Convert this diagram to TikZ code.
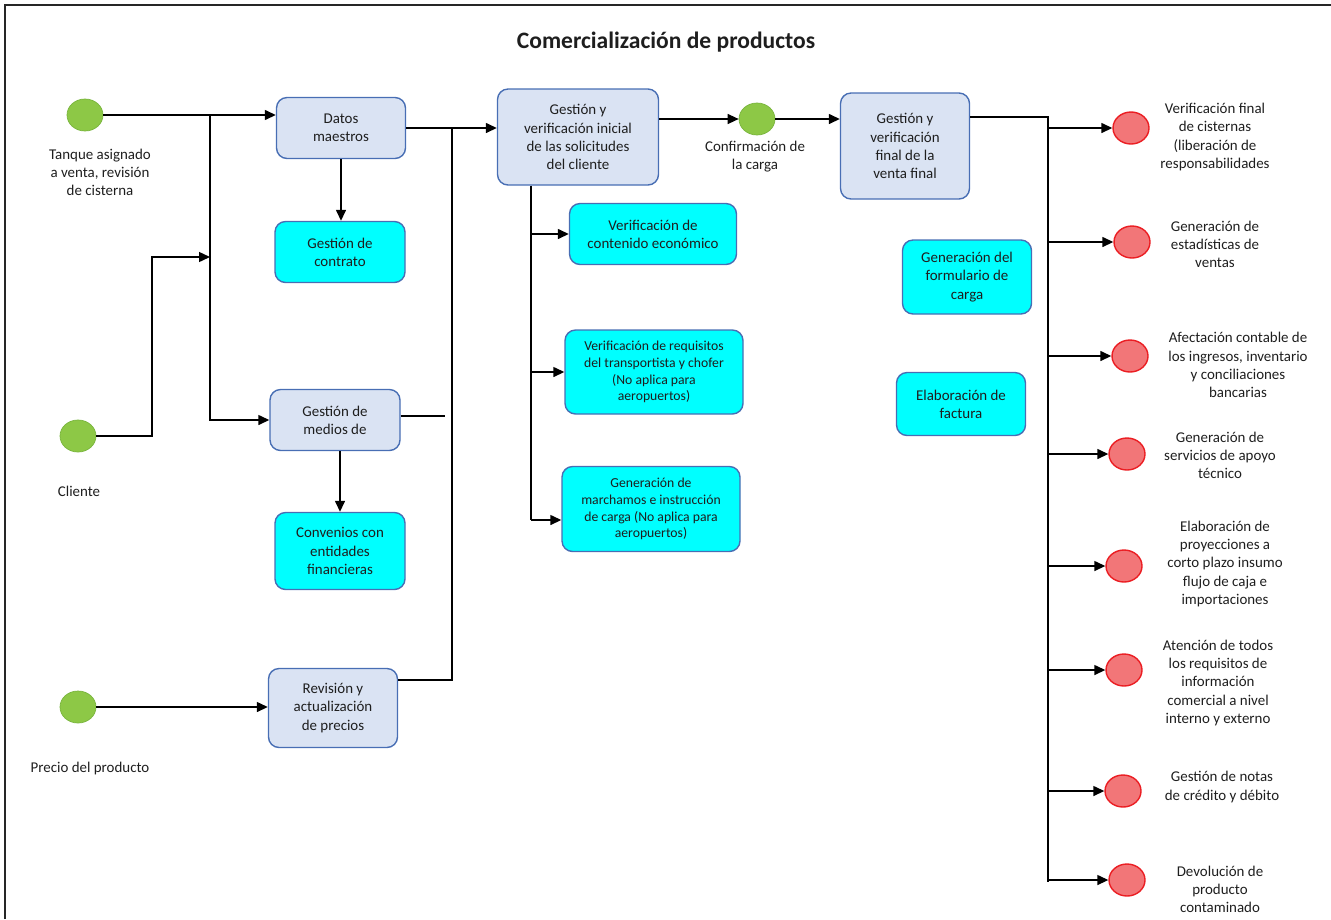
\documentclass[tikz,border=0pt]{standalone}
\usepackage{fontspec}
\setmainfont{Carlito}
\usetikzlibrary{shapes.geometric, arrows.meta}

\definecolor{cajaazul}{RGB}{218,227,243}
\definecolor{bordeazul}{RGB}{72,110,180}
\definecolor{cian}{RGB}{0,255,255}
\definecolor{verde}{RGB}{141,200,70}
\definecolor{verdeborde}{RGB}{120,180,60}
\definecolor{rojo}{RGB}{242,118,120}
\definecolor{rojoborde}{RGB}{235,30,35}
\definecolor{texto}{RGB}{30,30,30}

\begin{document}
\begin{tikzpicture}[
    every node/.style={font=\fontsize{8.5}{10.3}\selectfont, align=center, inner sep=2pt, text=texto},
    caja/.style={draw=bordeazul, line width=0.8pt, rounded corners=6pt},
    proc/.style={caja, fill=cajaazul},
    sub/.style={caja, fill=cian},
    chico/.style={font=\fontsize{7.8}{9.6}\selectfont},
    inicio/.style={ellipse, draw=verdeborde, fill=verde, minimum width=0.72cm, minimum height=0.64cm, inner sep=0pt},
    evento/.style={ellipse, draw=rojoborde, line width=0.8pt, fill=rojo, minimum width=0.72cm, minimum height=0.64cm, inner sep=0pt},
    flecha/.style={-{Triangle[length=2.2mm, width=2mm]}, line width=0.8pt},
    linea/.style={line width=0.8pt}
]
    \useasboundingbox (0,0) rectangle (26.62,-18.38);
    % Marco
    \draw[line width=1.2pt, black!85] (0.10,-18.38) -- (0.10,-0.10) -- (26.62,-0.10);

    \node[font=\fontsize{13.4}{16}\selectfont\bfseries] (titulo) at (13.32,-0.84) {Comercialización de productos};

    % Entradas
    \node[inicio] (tanque)  at (1.70,-2.30)  {};
    \node[inicio] (cliente) at (1.56,-8.72)  {};
    \node[inicio] (precio)  at (1.56,-14.14) {};
    \node[inicio] (confir)  at (15.14,-2.38) {};
    \node (lbtanque)  at (2.00,-3.44)  {Tanque asignado\\a venta, revisión\\de cisterna};
    \node (lbcliente) at (1.58,-9.82)  {Cliente};
    \node (lbprecio)  at (1.80,-15.38) {Precio del producto};
    \node (lbconfir)  at (15.10,-3.14) {Confirmación de\\la carga};

    % Procesos
    \node[proc, minimum width=2.58cm, minimum height=1.22cm] (datos)    at (6.82,-2.56)  {Datos\\maestros};
    \node[proc, minimum width=2.60cm, minimum height=1.22cm] (medios)   at (6.70,-8.40)  {Gestión de\\medios de};
    \node[proc, minimum width=2.58cm, minimum height=1.58cm] (revision) at (6.66,-14.16) {Revisión y\\actualización\\de precios};
    \node[proc, minimum width=3.22cm, minimum height=1.92cm] (inicial)  at (11.56,-2.74) {Gestión y\\verificación inicial\\de las solicitudes\\del cliente};
    \node[proc, minimum width=2.58cm, minimum height=2.12cm] (final)    at (18.10,-2.92) {Gestión y\\verificación\\final de la\\venta final};

    % Subprocesos
    \node[sub, minimum width=2.60cm, minimum height=1.22cm] (contrato)   at (6.80,-5.04)  {Gestión de\\contrato};
    \node[sub, minimum width=2.60cm, minimum height=1.54cm] (convenios)  at (6.80,-11.02) {Convenios con\\entidades\\financieras};
    \node[sub, minimum width=3.34cm, minimum height=1.22cm] (contenido)  at (13.06,-4.68) {Verificación de\\contenido económico};
    \node[sub, chico, minimum width=3.56cm, minimum height=1.68cm] (requisitos) at (13.08,-7.44) {Verificación de requisitos\\del transportista y chofer\\(No aplica para\\aeropuertos)};
    \node[sub, chico, minimum width=3.56cm, minimum height=1.70cm] (marchamos)  at (13.02,-10.18) {Generación de\\marchamos e instrucción\\de carga (No aplica para\\aeropuertos)};
    \node[sub, minimum width=2.58cm, minimum height=1.48cm] (formulario) at (19.34,-5.54) {Generación del\\formulario de\\carga};
    \node[sub, minimum width=2.58cm, minimum height=1.26cm] (factura)    at (19.22,-8.08) {Elaboración de\\factura};

    % Salidas
    \foreach \n/\x/\y/\lx/\ly/\t in {
        s1/22.62/-2.56/24.30/-2.74/{Verificación final\\de cisternas\\(liberación de\\responsabilidades},
        s2/22.64/-4.84/24.30/-4.88/{Generación de\\estadísticas de\\ventas},
        s3/22.60/-7.12/24.76/-7.30/{Afectación contable de\\los ingresos, inventario\\y conciliaciones\\bancarias},
        s4/22.54/-9.08/24.40/-9.10/{Generación de\\servicios de apoyo\\técnico},
        s5/22.48/-11.32/24.50/-11.28/{Elaboración de\\proyecciones a\\corto plazo insumo\\flujo de caja e\\importaciones},
        s6/22.48/-13.40/24.36/-13.66/{Atención de todos\\los requisitos de\\información\\comercial a nivel\\interno y externo},
        s7/22.46/-15.82/24.44/-15.74/{Gestión de notas\\de crédito y débito},
        s8/22.54/-17.60/24.40/-17.78/{Devolución de\\producto\\contaminado}}
    {
        \node[evento] (\n) at (\x,\y) {};
        \node (lb\n) at (\lx,\ly) {\t};
    }

    % Coordenadas de las barras
    \coordinate (b1)  at (4.20,-2.30);
    \coordinate (c1)  at (3.04,-5.14);
    \coordinate (c2)  at (4.20,-5.14);
    \coordinate (b2)  at (9.04,-13.60);
    \coordinate (m1)  at (8.00,-8.32);
    \coordinate (m2)  at (8.90,-8.32);
    \coordinate (b3)  at (10.62,-10.40);
    \coordinate (b4)  at (20.96,-2.34);
    \coordinate (b4f) at (20.96,-17.64);

    % Conexiones
    \draw[flecha] (tanque) -- (tanque -| datos.west);
    \draw[flecha] (b1) |- (medios.west);
    \draw[flecha] (cliente) -| (c1) -- (c2);
    \draw[flecha] (datos.south) -- (datos.south |- contrato.north);
    \draw[flecha] (convenios.north |- medios.south) -- (convenios.north);
    \draw[flecha] (precio) -- (precio -| revision.west);
    \draw[flecha] (datos.east) -- (datos.east -| inicial.west);
    \draw[linea] (revision.east |- b2) -- (b2) -- (b2 |- datos.east);
    \draw[linea] (m1 -| medios.east) -- (m2);
    \draw[linea] (b3 |- inicial.south) -- (b3);
    \draw[flecha] (b3 |- contenido.west) -- (contenido.west);
    \draw[flecha] (b3 |- requisitos.west) -- (requisitos.west);
    \draw[flecha] (b3) -- (b3 -| marchamos.west);
    \draw[flecha] (inicial.east |- confir) -- (confir.west);
    \draw[flecha] (confir.east) -- (confir -| final.west);
    \draw[linea] (b4 -| final.east) -- (b4) -- (b4f);
    \foreach \n in {s1,s2,s3,s4,s5,s6,s7,s8}
        \draw[flecha] (b4 |- \n) -- (\n.west);
\end{tikzpicture}
\end{document}
